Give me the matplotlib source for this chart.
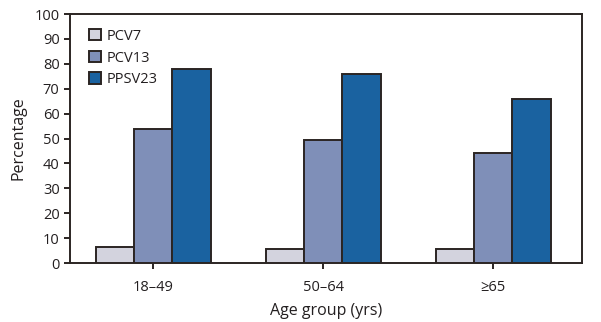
import matplotlib
matplotlib.use("Agg")
import matplotlib.pyplot as plt
import numpy as np

plt.rcParams['font.family'] = ['Open Sans', 'DejaVu Sans']

groups = ["18\u201349", "50\u201364", "\u226565"]
series = ["PCV7", "PCV13", "PPSV23"]
pcv7 = [6.5, 5.5, 5.5]
pcv13 = [54, 49.5, 44]
ppsv23 = [78, 76, 66]
colors = ["#d3d3de", "#7f8fb8", "#1a62a0"]
edge = "#2b2523"

fig = plt.figure(figsize=(6.01, 3.22), dpi=100)
ax = fig.add_axes([0.1165, 0.1832, 0.968 - 0.1165, 0.9565 - 0.1832])

x = np.arange(len(groups))
w = 0.225
for i, (name, vals, c) in enumerate(zip(series, [pcv7, pcv13, ppsv23], colors)):
    ax.bar(x + (i - 1) * w, vals, width=w, color=c, edgecolor=edge,
           linewidth=1.4, label=name, zorder=3)

ax.set_xlim(-0.49, 2.52)
ax.set_ylim(0, 100)
ax.set_yticks(range(0, 101, 10))
ax.set_xticks(x)
ax.set_xticklabels(groups)
for s in ax.spines.values():
    s.set_color(edge)
    s.set_linewidth(1.4)
ax.tick_params(axis='both', colors=edge, width=1.4, length=4, labelsize=10.5,
               labelcolor="#231f20")
ax.tick_params(axis='x', pad=8)
ax.set_ylabel("Percentage", fontsize=11.5, color="#231f20", labelpad=6)
ax.set_xlabel("Age group (yrs)", fontsize=11.5, color="#231f20", labelpad=6)

leg = ax.legend(loc='upper left', bbox_to_anchor=(0.02, 0.975), frameon=False,
                fontsize=10.5, handlelength=0.8, handleheight=0.8,
                handletextpad=0.4, labelspacing=0.45, borderaxespad=0.2)
for t in leg.get_texts():
    t.set_color("#231f20")

fig.savefig("out.png", dpi=100)
